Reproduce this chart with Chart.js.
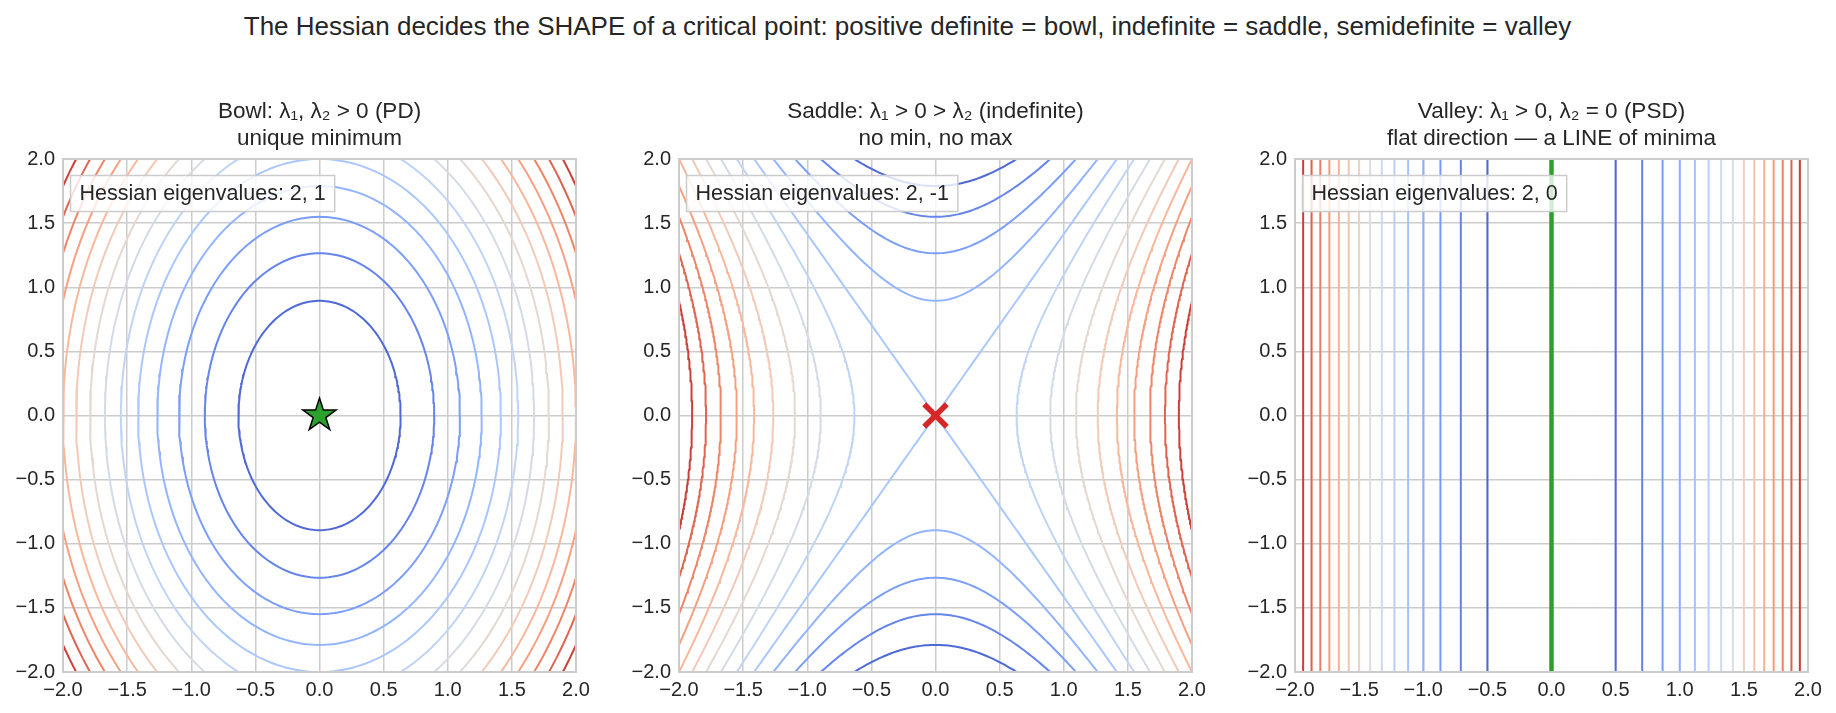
<!DOCTYPE html>
<html>
<head>
<meta charset="utf-8">
<script src="https://cdn.jsdelivr.net/npm/chart.js@4.4.1/dist/chart.umd.min.js"></script>
<style>
  body { margin: 0; background: #fff; width: 1836px; height: 713px; position: relative; overflow: hidden; font-family: 'Liberation Sans', Arial, sans-serif; }
  #suptitle { position: absolute; left: 0; width: 1815px; top: 11px; line-height: 30px; font-size: 26px; color: #262626; text-align: center; white-space: nowrap; }
  canvas { position: absolute; top: 98px; }
</style>
</head>
<body>
<div id="suptitle"></div>
<canvas id="bowlChart" width="601" height="614" style="left:3px"></canvas>
<canvas id="saddleChart" width="601" height="614" style="left:619px"></canvas>
<canvas id="valleyChart" width="601" height="614" style="left:1235px"></canvas>
<script>
const suptitle = 'The Hessian decides the SHAPE of a critical point: positive definite = bowl, indefinite = saddle, semidefinite = valley';
const axisTicks = [-2.0, -1.5, -1.0, -0.5, 0.0, 0.5, 1.0, 1.5, 2.0];

const panelTitles = [
  ['Bowl: λ₁, λ₂ > 0 (PD)', 'unique minimum'],
  ['Saddle: λ₁ > 0 > λ₂ (indefinite)', 'no min, no max'],
  ['Valley: λ₁ > 0, λ₂ = 0 (PSD)', 'flat direction — a LINE of minima']
];
const eigenvalues = [[2, 1], [2, -1], [2, 0]];

// contour levels of f = (l1*x^2 + l2*y^2) / 2, and the range the colours span
const bowlLevels = [0.4, 0.8, 1.2, 1.6, 2.0, 2.4, 2.8, 3.2, 3.6, 4.0, 4.4, 4.8, 5.2, 5.6];
const saddleLevels = [-1.6, -1.2, -0.8, -0.4, 0.0, 0.4, 0.8, 1.2, 1.6, 2.0, 2.4, 2.8, 3.2, 3.6];
const valleyLevels = [0.25, 0.5, 0.75, 1.0, 1.25, 1.5, 1.75, 2.0, 2.25, 2.5, 2.75, 3.0, 3.25, 3.5, 3.75];
const levelRanges = [[0, 6], [-2, 4], [0, 4]];

const minimumPoint = [0, 0];
const saddlePoint = [0, 0];
const valleyLineX = 0;

document.getElementById('suptitle').textContent = suptitle;

Chart.defaults.font.family = "'Liberation Sans', Arial, sans-serif";
Chart.defaults.color = '#262626';

// coolwarm colormap samples
const coolwarmTable = [
  [59,76,192],[68,90,204],[77,104,215],[87,117,225],[98,130,234],[108,142,241],[119,154,247],[130,165,251],
  [141,176,254],[152,185,255],[163,194,255],[174,201,253],[184,208,249],[194,213,244],[204,217,238],[213,219,230],
  [221,221,221],[229,216,209],[236,211,197],[241,204,185],[245,196,173],[247,187,160],[247,177,148],[247,166,135],
  [244,154,123],[241,141,111],[236,127,99],[229,112,88],[222,96,77],[213,80,66],[203,62,56],[192,40,47],[180,4,38]
];
function coolwarm(t) {
  t = Math.min(1, Math.max(0, t));
  const p = t * (coolwarmTable.length - 1);
  const i = Math.min(Math.floor(p), coolwarmTable.length - 2);
  const f = p - i;
  const a = coolwarmTable[i], b = coolwarmTable[i + 1];
  const c = a.map((v, k) => Math.round(v + (b[k] - v) * f));
  return `rgb(${c[0]},${c[1]},${c[2]})`;
}

// level set {f = c} as one or more polylines
function levelCurves(eig, c) {
  const [a, b] = eig;
  const N = 240, L = 2.3;
  const curves = [];
  if (b > 0) {
    const rx = Math.sqrt(2 * c / a), ry = Math.sqrt(2 * c / b);
    const pts = [];
    for (let i = 0; i <= N; i++) {
      const t = 2 * Math.PI * i / N;
      pts.push({ x: rx * Math.cos(t), y: ry * Math.sin(t) });
    }
    curves.push(pts);
  } else if (b < 0) {
    for (const s of [1, -1]) {
      const pts = [];
      for (let i = 0; i <= N; i++) {
        const u = -L + 2 * L * i / N;
        if (c > 0) pts.push({ x: s * Math.sqrt((2 * c - b * u * u) / a), y: u });
        else if (c < 0) pts.push({ x: u, y: s * Math.sqrt((a * u * u - 2 * c) / -b) });
        else pts.push({ x: u, y: s * Math.sqrt(a / -b) * u });
      }
      curves.push(pts);
    }
  } else {
    const x0 = Math.sqrt(2 * c / a);
    curves.push([{ x: x0, y: -L }, { x: x0, y: L }]);
    curves.push([{ x: -x0, y: -L }, { x: -x0, y: L }]);
  }
  return curves;
}

function starMarker(R) {
  const cv = document.createElement('canvas');
  const s = Math.ceil(2 * R + 4);
  cv.width = s; cv.height = s;
  const g = cv.getContext('2d');
  g.beginPath();
  for (let i = 0; i < 10; i++) {
    const r = i % 2 === 0 ? R : R * 0.381966;
    const ang = -Math.PI / 2 + i * Math.PI / 5;
    g.lineTo(s / 2 + r * Math.cos(ang), s / 2 + r * Math.sin(ang));
  }
  g.closePath();
  g.fillStyle = '#2ca02c';
  g.fill();
  g.strokeStyle = '#000';
  g.lineWidth = 1.5;
  g.stroke();
  return cv;
}

const fmt = v => (v < 0 ? '\u2212' : '') + Math.abs(v).toFixed(1);

function axisScale(axis) {
  return {
    type: 'linear',
    min: -2,
    max: 2,
    afterBuildTicks: s => { s.ticks = axisTicks.map(v => ({ value: v })); },
    ticks: { callback: v => fmt(v), font: { size: 20 }, color: '#262626', padding: axis === 'x' ? 6 : 8, maxRotation: 0, autoSkip: false },
    grid: { color: '#cccccc', lineWidth: 1.5, drawTicks: false },
    border: { display: false },
    afterFit: s => {
      if (axis === 'x') { s.height = 40; s.paddingLeft = 0; s.paddingRight = 0; }
      else { s.width = 60; s.paddingTop = 0; s.paddingBottom = 0; }
    }
  };
}

// frame + "Hessian eigenvalues" box
const panelDecor = {
  id: 'panelDecor',
  afterDatasetsDraw(chart, args, opts) {
    const { ctx, chartArea: a } = chart;
    ctx.save();
    ctx.strokeStyle = '#cccccc';
    ctx.lineWidth = 2;
    ctx.strokeRect(a.left, a.top, a.width, a.height);
    ctx.font = "21.5px 'Liberation Sans', Arial, sans-serif";
    const tw = ctx.measureText(opts.text).width;
    const bx = a.left + 7.5, by = a.top + 16.5, bw = tw + 18, bh = 36;
    ctx.fillStyle = 'rgba(255,255,255,0.8)';
    ctx.fillRect(bx, by, bw, bh);
    ctx.strokeStyle = '#cccccc';
    ctx.lineWidth = 1.5;
    ctx.strokeRect(bx, by, bw, bh);
    ctx.fillStyle = '#262626';
    ctx.textBaseline = 'middle';
    ctx.fillText(opts.text, bx + 9, by + bh / 2 + 1);
    ctx.restore();
  }
};

function buildPanel(canvasId, idx, levels, markers) {
  const eig = eigenvalues[idx];
  const [lo, hi] = levelRanges[idx];
  const datasets = [];
  levels.forEach(c => {
    const color = coolwarm((c - lo) / (hi - lo));
    levelCurves(eig, c).forEach(pts => datasets.push({
      data: pts, showLine: true, borderColor: color, borderWidth: 2, pointRadius: 0, clip: 0
    }));
  });
  markers.forEach(m => datasets.push(Object.assign({ order: -1 }, m)));

  new Chart(document.getElementById(canvasId), {
    type: 'scatter',
    data: { datasets },
    plugins: [panelDecor],
    options: {
      responsive: false,
      animation: false,
      events: [],
      layout: { padding: { left: 0, right: 28, top: 0, bottom: 0 } },
      plugins: {
        legend: { display: false },
        tooltip: { enabled: false },
        title: {
          display: true,
          text: panelTitles[idx],
          fullSize: false,
          color: '#262626',
          font: { size: 22.5, weight: 'normal', lineHeight: 1.2 },
          padding: { top: 0, bottom: 7 }
        },
        panelDecor: { text: 'Hessian eigenvalues: ' + eig.join(', ') }
      },
      scales: { x: axisScale('x'), y: axisScale('y') }
    }
  });
}

buildPanel('bowlChart', 0, bowlLevels, [{
  data: [{ x: minimumPoint[0], y: minimumPoint[1] }],
  pointStyle: starMarker(17.4), pointRadius: 17, clip: false
}]);

buildPanel('saddleChart', 1, saddleLevels, [{
  data: [{ x: saddlePoint[0], y: saddlePoint[1] }],
  pointStyle: 'crossRot', pointRadius: 16, pointBorderWidth: 5.5,
  pointBorderColor: '#d62728', borderColor: '#d62728', clip: false
}]);

buildPanel('valleyChart', 2, valleyLevels, [{
  data: [{ x: valleyLineX, y: -2.3 }, { x: valleyLineX, y: 2.3 }],
  showLine: true, borderColor: '#2ca02c', borderWidth: 4.5, pointRadius: 0, clip: 0
}]);
</script>
</body>
</html>
